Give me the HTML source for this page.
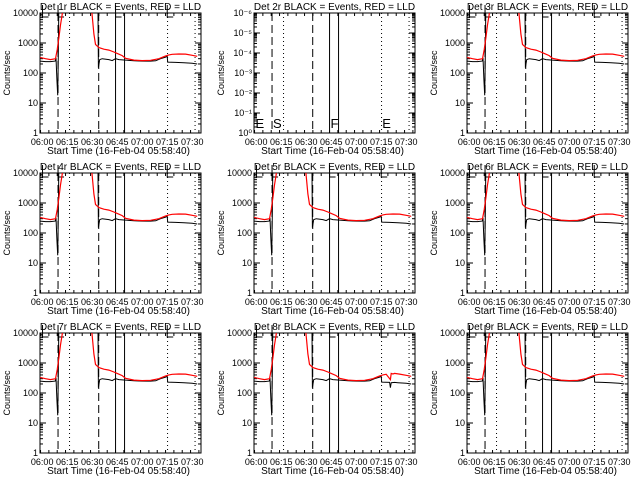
<!DOCTYPE html>
<html><head><meta charset="utf-8"><style>
html,body{margin:0;padding:0;background:#fff;}
svg{display:block;font-family:"Liberation Sans",sans-serif;}
</style></head><body>
<svg id="c" width="640" height="480" viewBox="0 0 640 480"></svg>
<script>
// Time in minutes relative to 06:00; values in counts/sec
const detNames = ["1r","2r","3r","4r","5r","6r","7r","8r","9r"];
const xTickLabels = ["06:00","06:15","06:30","06:45","07:00","07:15","07:30"];
const xTickMinutes = [0,15,30,45,60,75,90];
const yTickLabels = ["1","10","100","1000","10000"];
const yTickValues = [1,10,100,1000,10000];
const yTickLabelsDet2 = ["10\u2070","10\u207B\u00B9","10\u207B\u00B2","10\u207B\u00B3","10\u207B\u2074","10\u207B\u2075","10\u207B\u2076"];
const dashedTimes = [9.5, 33.9];
const dottedTimes = [16.4, 75.2, 91.7];
const solidTimes = [44, 49.4];
const flagLetters = ["E","S","F","E"];
const flagTimes = [-1, 9.5, 44, 75];
const blackTimes = [-1.3,2,5,7.8,8.3,8.8,9.3,9.6,10,33.4,33.7,34.5,36,40,42,44,46,50,55,60,65,68,71,74,75,75.3,80,85,90,93];
const blackValues = [250,240,240,250,320,60,18,200,30000,30000,150,280,300,280,260,300,280,270,255,250,250,255,300,340,360,230,225,220,210,200];
const redTimes = [-1.3,2,5,8,9,10,11,12,13,29,30,31,32,34,37,40,43,45,48,50,55,60,65,70,74,76,78,82,86,90,93];
const redValues = [330,300,280,300,600,1500,4000,9000,30000,30000,8000,2000,900,700,620,580,500,450,380,310,270,260,265,300,370,400,420,430,425,390,360];
const det8DipTimes = [80.5,81,83];
const det8DipBlack = [150,220,225];
const det8DipRed = [280,450,450];

const svg=document.getElementById('c');
const NS='http://www.w3.org/2000/svg';
function mk(tag,attrs,parent){const e=document.createElementNS(NS,tag);for(const k in attrs)e.setAttribute(k,attrs[k]);(parent||svg).appendChild(e);return e;}
const colLeft=[40,254,467], rowTop=[13,173,333], W=161, H=120;

for(let p=0;p<9;p++){
  const L=colLeft[p%3], T=rowTop[Math.floor(p/3)];
  const g=mk('g',{});
  
  
  const xs=m=>L+2.2+m*1.667;
  const ys=v=>T+H-Math.log10(v)/4*H;
  const clipId='clip'+p;
  const cp=mk('clipPath',{id:clipId},g);mk('rect',{x:L,y:T,width:W,height:H},cp);
  const t=mk('text',{x:L+W/2,y:T-3,'text-anchor':'middle','font-size':'10'},g);
  t.textContent='Det '+detNames[p]+' BLACK = Events, RED = LLD';
  
  
  const fr=mk('rect',{x:L,y:T,width:W,height:H,fill:'none',stroke:'#000','stroke-width':1},g);
  
  
  for(let m=-1;m<=95;m+=5){const x=xs(m);if(x<L||x>L+W)continue;const len=(m%15===0)?6:3;
    mk('line',{x1:x,y1:T+H,x2:x,y2:T+H-len,stroke:'#000'},g);mk('line',{x1:x,y1:T,x2:x,y2:T+len,stroke:'#000'},g);}
  xTickMinutes.forEach((m,i)=>{const tx=mk('text',{x:xs(m),y:T+H+12,'text-anchor':'middle','font-size':'9'},g);tx.textContent=xTickLabels[i];
    
    });
  const xt=mk('text',{x:L+W/2-2,y:T+H+21,'text-anchor':'middle','font-size':'10'},g);
  xt.textContent='Start Time (16-Feb-04 05:58:40)';
  
  
  const yt=mk('text',{x:0,y:0,'text-anchor':'middle','font-size':'9',transform:`translate(${L-30},${T+H/2}) rotate(-90)`},g);
  yt.textContent='Counts/sec';
  
  
  if(p===1){
    yTickLabelsDet2.forEach((lb,i)=>{const y=T+H-i*H/6;
      mk('line',{x1:L,y1:y,x2:L+6,y2:y,stroke:'#000'},g);mk('line',{x1:L+W,y1:y,x2:L+W-6,y2:y,stroke:'#000'},g);
      const tx=mk('text',{x:L-2,y:y+3,'text-anchor':'end','font-size':'9'},g);tx.textContent=lb;
      
      
      for(let k=2;k<10;k++){const yy=y-Math.log10(k)*H/6;if(i<6){mk('line',{x1:L,y1:yy,x2:L+3,y2:yy,stroke:'#000'},g);mk('line',{x1:L+W,y1:yy,x2:L+W-3,y2:yy,stroke:'#000'},g);}}});
    flagLetters.forEach((lb,i)=>{const tx=mk('text',{x:xs(flagTimes[i])+1,y:T+H-5,'font-size':'13'},g);tx.textContent=lb;
      
      });
  } else {
    yTickValues.forEach((v,i)=>{const y=ys(v);
      mk('line',{x1:L,y1:y,x2:L+6,y2:y,stroke:'#000'},g);mk('line',{x1:L+W,y1:y,x2:L+W-6,y2:y,stroke:'#000'},g);
      const tx=mk('text',{x:L-2,y:y+3,'text-anchor':'end','font-size':'9'},g);tx.textContent=yTickLabels[i];
      
      
      if(i<4)for(let k=2;k<10;k++){const yy=ys(v*k);mk('line',{x1:L,y1:yy,x2:L+3,y2:yy,stroke:'#000'},g);mk('line',{x1:L+W,y1:yy,x2:L+W-3,y2:yy,stroke:'#000'},g);}});
    flagTimes.forEach((m,i)=>{const x=xs(m)+(i===0?2:0);
      const pl=mk('polyline',{points:`${x},${T-8} ${x},${T+4} ${x+6},${T+4}`,fill:'none',stroke:'#000'},g);
      
      });
  }
  const cg=mk('g',{'clip-path':`url(#${clipId})`},g);
  dashedTimes.forEach(m=>{const l=mk('line',{x1:xs(m),y1:T,x2:xs(m),y2:T+H,stroke:'#000','stroke-dasharray':'8,4'},cg);});
  dottedTimes.forEach(m=>{const l=mk('line',{x1:xs(m),y1:T,x2:xs(m),y2:T+H,stroke:'#000','stroke-dasharray':'1,3'},cg);});
  solidTimes.forEach(m=>{const l=mk('line',{x1:xs(m),y1:T,x2:xs(m),y2:T+H,stroke:'#000'},cg);});
  if(p!==1){
    let bt=blackTimes.slice(), bv=blackValues.slice(), rt=redTimes.slice(), rv=redValues.slice();
    if(p===7){
      const ins=(ts,vs,nt,nv)=>{const arr=ts.map((t,i)=>[t,vs[i]]);nt.forEach((t,i)=>arr.push([t,nv[i]]));arr.sort((a,b)=>a[0]-b[0]);return[arr.map(a=>a[0]),arr.map(a=>a[1])];};
      [bt,bv]=ins(bt,bv,det8DipTimes,det8DipBlack);[rt,rv]=ins(rt,rv,det8DipTimes,det8DipRed);
    }
    const step=(ts,vs)=>ts.map((t,i)=>`${xs(t).toFixed(1)},${ys(vs[i]).toFixed(1)}`).join(' ');
    const bl=mk('polyline',{points:step(bt,bv),fill:'none',stroke:'#000','stroke-width':1},cg);
    
    
    const rl=mk('polyline',{points:step(rt,rv),fill:'none',stroke:'#f00','stroke-width':1.2},cg);
    
    
  }
}
</script>
</body></html>
